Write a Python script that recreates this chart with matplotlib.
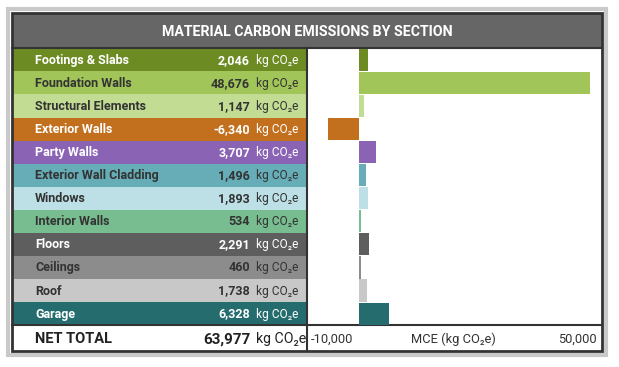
import matplotlib
matplotlib.use('Agg')
import matplotlib.pyplot as plt
from matplotlib.patches import Rectangle
from matplotlib.transforms import blended_transform_factory

# Data
sections = ['Footings & Slabs', 'Foundation Walls', 'Structural Elements', 'Exterior Walls',
            'Party Walls', 'Exterior Wall Cladding', 'Windows', 'Interior Walls',
            'Floors', 'Ceilings', 'Roof', 'Garage']
emissions = [2046, 48676, 1147, -6340, 3707, 1496, 1893, 534, 2291, 460, 1738, 6328]
net_total = 63977
colors = ['#6c8b22', '#a2c55a', '#c2dc94', '#c26f1e', '#8b63b5', '#66adb8',
          '#bde0e6', '#77bd8f', '#5e5e5e', '#8c8c8c', '#c8c8c8', '#256c6f']
text_colors = ['white', '#333333', '#333333', 'white', 'white', '#333333',
               '#333333', '#333333', 'white', '#333333', '#333333', 'white']
title = 'MATERIAL CARBON EMISSIONS BY SECTION'
axis_label = 'MCE (kg CO\u2082e)'
unit = 'kg CO\u2082e'
x_ticks = [-10000, 50000]

plt.rcParams['font.family'] = ['Roboto', 'DejaVu Sans']

W, H = 619, 367
fig = plt.figure(figsize=(W / 100, H / 100), dpi=100, facecolor='white')

# background axes in pixel coords
bg = fig.add_axes([0, 0, 1, 1])
bg.set_xlim(0, W)
bg.set_ylim(H, 0)
bg.set_axis_off()

left, right = 12, 602
top, bottom = 13, 351
title_bottom = 48.3
row_h = 23.07
rows_bottom = title_bottom + row_h * len(sections)
divider = 306.5

# outer light frame and title bar
bg.add_patch(Rectangle((8, 9), 598, 346, facecolor='none', edgecolor='#c9c9c9', lw=3))
bg.add_patch(Rectangle((left, top), right - left, title_bottom - top,
                       facecolor='#666666', edgecolor='none'))
bg.text((left + right) / 2, (top + title_bottom) / 2 + 1, title, color='white',
        fontsize=10.2, fontweight='bold', ha='center', va='center')

for i, (name, val) in enumerate(zip(sections, emissions)):
    y0 = title_bottom + i * row_h
    bg.add_patch(Rectangle((left, y0), divider - left, row_h,
                           facecolor=colors[i], edgecolor='none'))
    yc = y0 + row_h / 2 + 0.5
    tc = text_colors[i]
    bg.text(35, yc, name, color=tc, fontsize=9, fontweight='bold', ha='left', va='center')
    bg.text(250, yc, f'{val:,}', color=tc, fontsize=9, fontweight='bold',
            ha='right', va='center')
    bg.text(256, yc, unit, color=tc, fontsize=8.6, ha='left', va='center')

# total row
yc = (rows_bottom + bottom) / 2 + 1
bg.text(35, yc, 'NET TOTAL', color='#222222', fontsize=10.5, fontweight='bold',
        ha='left', va='center')
bg.text(250, yc, f'{net_total:,}', color='#222222', fontsize=11, fontweight='bold',
        ha='right', va='center')
bg.text(256, yc, unit, color='#222222', fontsize=10.2, ha='left', va='center')

# lines
lc = '#333333'
bg.plot([left, right], [title_bottom, title_bottom], color=lc, lw=1.5)
bg.plot([left, right], [rows_bottom, rows_bottom], color=lc, lw=1.5)
bg.plot([divider + 0.5, divider + 0.5], [title_bottom, bottom], color=lc, lw=1.5)
bg.add_patch(Rectangle((left, top), right - left, bottom - top,
                       facecolor='none', edgecolor=lc, lw=2))

# bar chart
bx0 = divider + 1.5
bar_ax = fig.add_axes([bx0 / W, (H - rows_bottom) / H, (right - 1 - bx0) / W,
                       (rows_bottom - title_bottom) / H])
bar_ax.barh(range(len(sections)), emissions, height=0.96, color=colors)
bar_ax.set_xlim(-10620, 50980)
bar_ax.set_ylim(len(sections) - 0.5, -0.5)
bar_ax.set_axis_off()

tr = blended_transform_factory(bar_ax.transData, bg.transData)
yt = (rows_bottom + bottom) / 2 + 1
label_color = '#333333'
bg.text(x_ticks[0], yt, f'{x_ticks[0]:,}', transform=tr, ha='left', va='center',
        fontsize=9.3, color=label_color)
bg.text(x_ticks[1], yt, f'{x_ticks[1]:,}', transform=tr, ha='right', va='center',
        fontsize=9.3, color=label_color)
bg.text(sum(x_ticks) / 2, yt, axis_label, transform=tr, ha='center', va='center',
        fontsize=9.3, color=label_color)

fig.savefig('out.png', dpi=100, facecolor='white')
